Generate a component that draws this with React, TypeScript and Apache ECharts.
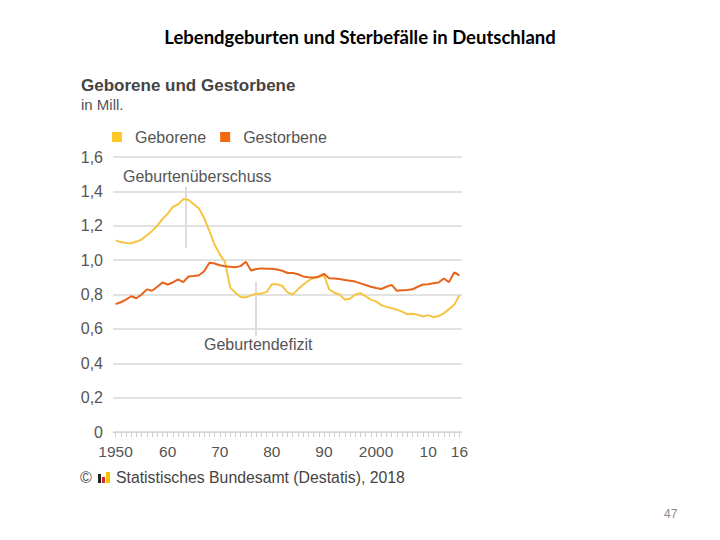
import React, { useEffect, useRef } from "react";
import * as echarts from "echarts";

const years: number[] = [];
for (let y = 1950; y <= 2016; y++) years.push(y);

const geborene = [
  1.115, 1.105, 1.100, 1.098, 1.108, 1.120, 1.145, 1.170, 1.200, 1.240,
  1.270, 1.310, 1.325, 1.355, 1.350, 1.325, 1.300, 1.245, 1.170, 1.090,
  1.035, 0.990, 0.840, 0.810, 0.785, 0.783, 0.795, 0.805, 0.805, 0.815,
  0.860, 0.860, 0.850, 0.812, 0.800, 0.830, 0.857, 0.880, 0.898, 0.900,
  0.912, 0.830, 0.810, 0.800, 0.770, 0.775, 0.800, 0.808, 0.790, 0.770,
  0.760, 0.738, 0.728, 0.720, 0.712, 0.700, 0.685, 0.688, 0.682, 0.672,
  0.680, 0.668, 0.675, 0.690, 0.715, 0.740, 0.795,
];

const gestorbene = [
  0.745, 0.755, 0.770, 0.790, 0.778, 0.800, 0.830, 0.822, 0.845, 0.870,
  0.858, 0.870, 0.888, 0.872, 0.905, 0.908, 0.912, 0.935, 0.985, 0.980,
  0.970, 0.965, 0.962, 0.958, 0.965, 0.990, 0.940, 0.948, 0.952, 0.950,
  0.950, 0.945, 0.938, 0.925, 0.925, 0.918, 0.905, 0.900, 0.898, 0.905,
  0.920, 0.895, 0.893, 0.890, 0.885, 0.880, 0.875, 0.865, 0.855, 0.845,
  0.838, 0.832, 0.845, 0.856, 0.822, 0.825, 0.826, 0.830, 0.845, 0.858,
  0.860, 0.866, 0.870, 0.893, 0.872, 0.928, 0.912,
];

const xLabelYears = [1950, 1960, 1970, 1980, 1990, 2000, 2010, 2016];
const xLabelTexts = ["1950", "60", "70", "80", "90", "2000", "10", "16"];

const FONT = "'Liberation Sans', Arial, sans-serif";

export default function App() {
  const ref = useRef<HTMLDivElement>(null);
  useEffect(() => {
    if (!ref.current) return;
    const chart = echarts.init(ref.current, null, { renderer: "svg" });
    chart.setOption({
      animation: false,
      backgroundColor: "#ffffff",
      textStyle: { fontFamily: FONT },
      title: [
        {
          text: "Lebendgeburten und Sterbefälle in Deutschland",
          left: "center",
          top: 22,
          textStyle: { fontFamily: "Lato, 'Open Sans', sans-serif", fontSize: 18.5, fontWeight: 700, color: "#000" },
        },
        {
          text: "Geborene und Gestorbene",
          left: 76,
          top: 72,
          textStyle: { fontFamily: FONT, fontSize: 17, fontWeight: 700, color: "#444" },
        },
        {
          text: "in Mill.",
          left: 76,
          top: 92,
          textStyle: { fontFamily: FONT, fontSize: 15, fontWeight: 400, color: "#555" },
        },
      ],
      legend: {
        left: 107,
        top: 124,
        icon: "rect",
        itemWidth: 10,
        itemHeight: 10,
        itemGap: 14,
        textStyle: { fontFamily: FONT, fontSize: 16, color: "#555", padding: [0, 0, 0, 8] },
        data: ["Geborene", "Gestorbene"],
      },
      grid: { left: 113, right: 258, top: 157, bottom: 108 },
      xAxis: {
        type: "value",
        min: 1949.5,
        max: 2016.5,
        splitLine: { show: false },
        axisLine: { show: true, lineStyle: { color: "#d8d8d8", width: 1 } },
        axisTick: {
          show: true,
          customValues: years,
          length: 5,
          lineStyle: { color: "#cfcfcf", width: 1 },
        },
        axisLabel: {
          customValues: xLabelYears,
          formatter: (v: number) => {
            const i = xLabelYears.indexOf(Math.round(v));
            return i >= 0 ? xLabelTexts[i] : "";
          },
          fontFamily: FONT,
          fontSize: 15.5,
          color: "#555",
          margin: 11,
        },
      },
      yAxis: {
        type: "value",
        min: 0,
        max: 1.6,
        interval: 0.2,
        axisLine: { show: false },
        axisTick: { show: false },
        splitLine: { lineStyle: { color: "#e2e2e2", width: 2 } },
        axisLabel: {
          fontFamily: FONT,
          fontSize: 16,
          color: "#555",
          margin: 10,
          formatter: (v: number) => (v === 0 ? "0" : v.toFixed(1).replace(".", ",")),
        },
      },
      series: [
        {
          name: "Geborene",
          type: "line",
          symbol: "none",
          color: "#FFC72C",
          lineStyle: { color: "#F5C542", width: 2 },
          data: years.map((y, i) => [y, geborene[i]]),
        },
        {
          name: "Gestorbene",
          type: "line",
          symbol: "none",
          color: "#F26A10",
          lineStyle: { color: "#E8641A", width: 2 },
          data: years.map((y, i) => [y, gestorbene[i]]),
        },
      ],
      graphic: [
        { type: "line", shape: { x1: 186, y1: 187, x2: 186, y2: 248 }, style: { stroke: "#dddddd", lineWidth: 2 }, z: 1 },
        { type: "line", shape: { x1: 256, y1: 282, x2: 256, y2: 336 }, style: { stroke: "#dddddd", lineWidth: 2 }, z: 1 },
        {
          type: "text",
          left: 123,
          top: 168,
          style: { text: "Geburtenüberschuss", font: `16px ${FONT}`, fill: "#555" },
        },
        {
          type: "text",
          left: 204,
          top: 336,
          style: { text: "Geburtendefizit", font: `16px ${FONT}`, fill: "#555" },
        },
        {
          type: "text",
          left: 80,
          top: 469,
          style: { text: "©", font: `16px ${FONT}`, fill: "#555" },
        },
        { type: "rect", shape: { x: 98, y: 474, width: 3, height: 9 }, style: { fill: "#222" } },
        { type: "rect", shape: { x: 102, y: 477, width: 3, height: 6 }, style: { fill: "#d8262a" } },
        { type: "rect", shape: { x: 106, y: 472, width: 4, height: 11 }, style: { fill: "#f5c400" } },
        {
          type: "text",
          left: 116,
          top: 469,
          style: { text: "Statistisches Bundesamt (Destatis), 2018", font: `15.8px ${FONT}`, fill: "#444" },
        },
        {
          type: "text",
          left: 664,
          top: 508,
          style: { text: "47", font: `12px ${FONT}`, fill: "#888" },
        },
      ],
    });
    return () => chart.dispose();
  }, []);
  return (
    <div
      ref={ref}
      style={{ position: "absolute", left: 0, top: 0, width: 720, height: 540 }}
    />
  );
}
